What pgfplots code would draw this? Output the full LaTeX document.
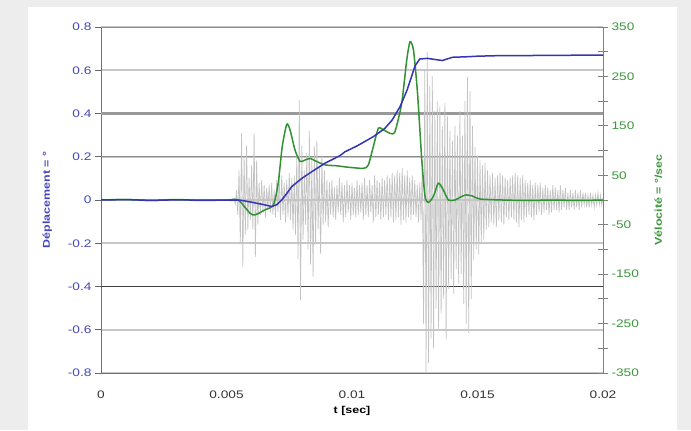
\documentclass[border=0pt]{standalone}
\usepackage{fontspec}
\setmainfont{Liberation Sans}[FakeStretch=1.25]
\usepackage{pgfplots}
\pgfplotsset{compat=1.18}
\definecolor{dispblue}{RGB}{52,52,180}
\definecolor{velgreen}{RGB}{50,145,50}
\definecolor{noisegray}{RGB}{195,195,195}
\definecolor{lblblue}{RGB}{70,70,190}
\definecolor{lblgreen}{RGB}{60,150,60}
\begin{document}
\begin{tikzpicture}[x=1bp,y=1bp]
\useasboundingbox (0,0) rectangle (691,430);
\fill[black!7] (0,0) rectangle (691,430);
\fill[white] (28,0) rectangle (677,423);
% ---------- axis A: grid and left axis ----------
\begin{axis}[
  at={(101bp,57bp)}, anchor=south west,
  scale only axis, width=502bp, height=346bp,
  xmin=0, xmax=0.02, ymin=-0.8, ymax=0.8,
  scaled x ticks=false, scaled y ticks=false,
  axis x line*=bottom, axis y line*=left,
  axis line style={black!55, line width=0.8bp},
  x axis line style={-}, y axis line style={-},
  xtick={0,0.005,0.01,0.015,0.02},
  xticklabels={0,0.005,0.01,0.015,0.02},
  xtick style={draw=none},
  ytick={-0.8,-0.6,-0.4,-0.2,0,0.2,0.4,0.6,0.8},
  yticklabels={-0.8,-0.6,-0.4,-0.2,0,0.2,0.4,0.6,0.8},
  ytick style={black!60, line width=0.8bp},
  tick align=outside, major tick length=6bp,
  ymajorgrids, major grid style={black!22, line width=1.6bp},
  yticklabel style={font=\fontsize{11}{13}\selectfont, text=lblblue},
  xticklabel style={font=\fontsize{11}{13}\selectfont, text=black!80, yshift=-8bp},
  xlabel={\textbf{t [sec]}},
  xlabel style={font=\fontsize{10}{12}\selectfont, at={(axis description cs:0.5,-0.11)}, anchor=center},
  ylabel={\textbf{Déplacement = °}},
  ylabel style={font=\fontsize{10}{12}\selectfont, text=lblblue, at={(axis description cs:-0.107,0.5)}, anchor=center, rotate=0},
]
\draw[black!40, line width=2.2bp] (axis cs:0,0.4) -- (axis cs:0.02,0.4);
\draw[black!75, line width=0.9bp] (axis cs:0,-0.4) -- (axis cs:0.02,-0.4);
\draw[black!45, line width=0.8bp] (axis cs:0,0.8) -- (axis cs:0.02,0.8);
\draw[black!45, line width=0.9bp] (axis cs:0,0.2) -- (axis cs:0.02,0.2);
\addplot[draw=none] coordinates {(0,0)};
\end{axis}
% ---------- axis B: velocity (right axis), noise and green line ----------
\begin{axis}[
  at={(101bp,57bp)}, anchor=south west,
  scale only axis, width=502bp, height=346bp,
  xmin=0, xmax=0.02, ymin=-350, ymax=350,
  scaled x ticks=false,
  axis x line=none, axis y line*=right,
  axis line style={black!50, line width=0.8bp}, y axis line style={-},
  ytick={-350,-250,-150,-50,50,150,250,350},
  yticklabels={-350,-250,-150,-50,50,150,250,350},
  minor ytick={-300,-200,-100,0,100,200,300},
  tick align=center, major tick length=10bp, minor tick length=10bp,
  every tick/.style={black!50, line width=0.8bp},
  yticklabel style={font=\fontsize{11}{13}\selectfont, text=lblgreen},
  ylabel={\textbf{Vélocité = °/sec}},
  ylabel style={font=\fontsize{10}{12}\selectfont, text=lblgreen, at={(axis description cs:1.11,0.5)}, anchor=center, rotate=0},
]
\addplot[noisegray, line width=0.7bp] coordinates {
(0,0) (0.001,1) (0.002,-1) (0.003,1) (0.004,-1) (0.005,1) (0.0052,-2) (0.0053,3)
(0.00535,-8) (0.0054,20) (0.00545,-30) (0.0055,60) (0.00555,-90) (0.0056,135) (0.00565,-135) (0.0057,90)
(0.00575,-70) (0.0058,110) (0.00585,-60) (0.0059,45) (0.00595,-40) (0.006,70) (0.00605,-60) (0.0061,135)
(0.00615,-115) (0.0062,80) (0.00625,-50) (0.0063,35) (0.00635,-30) (0.0064,40) (0.00645,-25) (0.0065,30)
(0.00655,-35) (0.0066,25) (0.00665,-20) (0.0067,30) (0.00675,-25) (0.0068,35) (0.00685,-30) (0.0069,20)
(0.00695,-35) (0.007,40) (0.00705,-25) (0.0071,45) (0.00715,-40) (0.0072,50) (0.00725,-30) (0.0073,35)
(0.00735,-45) (0.0074,40) (0.00745,-35) (0.0075,55) (0.00755,-40) (0.0076,45) (0.00765,-60) (0.0077,50)
(0.00775,-70) (0.0078,90) (0.00785,-120) (0.0079,202) (0.00795,-202) (0.008,110) (0.00805,-80) (0.0081,60)
(0.00815,-50) (0.0082,95) (0.00825,-100) (0.0083,140) (0.00835,-130) (0.0084,80) (0.00845,-155) (0.0085,110)
(0.00855,-90) (0.0086,120) (0.00865,-60) (0.0087,70) (0.00875,-110) (0.0088,90) (0.00885,-50) (0.0089,60)
(0.00895,-45) (0.009,40) (0.00905,-55) (0.0091,35) (0.00915,-30) (0.0092,40) (0.00925,-35)
(0.0093,25) (0.00935,-40) (0.0094,30) (0.00945,-25) (0.0095,45) (0.00955,-30) (0.0096,35) (0.00965,-45)
(0.0097,30) (0.00975,-35) (0.0098,40) (0.00985,-25) (0.0099,30) (0.00995,-40) (0.01,35) (0.01005,-30)
(0.0101,25) (0.01015,-35) (0.0102,40) (0.01025,-30) (0.0103,30) (0.01035,-25) (0.0104,35) (0.01045,-40)
(0.0105,45) (0.01055,-30) (0.0106,30) (0.01065,-35) (0.0107,40) (0.01075,-25) (0.0108,30) (0.01085,-45)
(0.0109,50) (0.01095,-35) (0.011,40) (0.01105,-30) (0.0111,35) (0.01115,-40) (0.0112,45) (0.01125,-35)
(0.0113,40) (0.01135,-30) (0.0114,50) (0.01145,-40) (0.0115,45) (0.01155,-35) (0.0116,55) (0.01165,-45)
(0.0117,50) (0.01175,-40) (0.0118,60) (0.01185,-35) (0.0119,55) (0.01195,-50) (0.012,65) (0.01205,-40)
(0.0121,50) (0.01215,-45) (0.0122,60) (0.01225,-35) (0.0123,45) (0.01235,-40) (0.0124,50) (0.01245,-30)
(0.0125,40) (0.01255,-35) (0.0126,30) (0.01265,-45) (0.0127,35) (0.01275,-40)
(0.0128,80) (0.01285,-250) (0.0129,263) (0.01295,-350) (0.013,300) (0.01305,-330) (0.0131,230) (0.01315,-280)
(0.0132,250) (0.01325,-300) (0.0133,180) (0.01335,-220) (0.0134,200) (0.01345,-260) (0.0135,190) (0.01355,-230)
(0.0136,150) (0.01365,-200) (0.0137,196) (0.01375,-283) (0.0138,170) (0.01385,-180) (0.0139,140) (0.01395,-160)
(0.014,120) (0.01405,-190) (0.0141,150) (0.01415,-140) (0.0142,130) (0.01425,-170) (0.0143,180) (0.01435,-150)
(0.0144,130) (0.01445,-210) (0.0145,200) (0.01455,-250) (0.0146,249) (0.01465,-269) (0.0147,220) (0.01475,-200)
(0.0148,150) (0.01485,-121) (0.0149,107) (0.01495,-100) (0.015,90) (0.01505,-110) (0.0151,80) (0.01515,-85)
(0.0152,70) (0.01525,-80) (0.0153,75) (0.01535,-60) (0.0154,60) (0.01545,-55) (0.0155,50) (0.01555,-45)
(0.0156,55) (0.01565,-50) (0.0157,45) (0.01575,-55) (0.0158,50) (0.01585,-40) (0.0159,55) (0.01595,-45)
(0.016,50) (0.01605,-50) (0.0161,45) (0.01615,-35) (0.0162,40)
(0.01625,-40) (0.0163,45) (0.01635,-35) (0.0164,50) (0.01645,-40) (0.0165,55) (0.01655,-45) (0.0166,50)
(0.01665,-55) (0.0167,45) (0.01675,-40) (0.0168,50) (0.01685,-45) (0.0169,40) (0.01695,-35) (0.017,35)
(0.01705,-30) (0.0171,40) (0.01715,-35) (0.0172,30) (0.01725,-40) (0.0173,35) (0.01735,-30) (0.0174,30)
(0.01745,-25) (0.0175,35) (0.01755,-30) (0.0176,25) (0.01765,-25) (0.0177,30) (0.01775,-20) (0.0178,25)
(0.01785,-30) (0.0179,20) (0.01795,-25) (0.018,30) (0.01805,-20) (0.0181,25) (0.01815,-20) (0.0182,20)
(0.01825,-25) (0.0183,30) (0.01835,-20) (0.0184,20) (0.01845,-15) (0.0185,25) (0.01855,-20) (0.0186,15)
(0.01865,-20) (0.0187,20) (0.01875,-15) (0.0188,15) (0.01885,-20) (0.0189,20) (0.01895,-15) (0.019,15)
(0.01905,-20) (0.0191,20) (0.01915,-15) (0.0192,15) (0.01925,-10) (0.0193,15) (0.01935,-15) (0.0194,10)
(0.01945,-15) (0.0195,15) (0.01955,-10) (0.0196,10) (0.01965,-15) (0.0197,10) (0.01975,-10) (0.0198,15)
(0.01985,-10) (0.0199,10) (0.01995,-10) (0.02,5)
};
\addplot[velgreen, line width=1.5bp, smooth, tension=0.4] coordinates {
(0,0) (0.001,1) (0.002,-1) (0.003,1) (0.004,-1) (0.005,0) (0.00547,0)
(0.00594,-27) (0.00614,-30) (0.00653,-20) (0.00687,-10) (0.00706,34) (0.00722,108)
(0.0074,153) (0.00753,142) (0.00773,101) (0.00793,78) (0.00813,81) (0.00833,84)
(0.00859,78) (0.00892,71) (0.00945,69) (0.00972,67) (0.01045,64) (0.01065,71)
(0.01085,108) (0.01105,145) (0.01125,142) (0.01151,135) (0.01171,138) (0.01198,196)
(0.01218,283) (0.01231,320) (0.01245,303) (0.01261,216) (0.01278,81) (0.01291,7)
(0.01304,-5) (0.01324,7) (0.01344,34) (0.01364,20) (0.01384,0) (0.0141,0)
(0.0145,10) (0.0148,8) (0.0151,2) (0.016,0) (0.017,-1) (0.018,0) (0.019,-1) (0.02,0)
};
\end{axis}
% ---------- axis C: displacement (left scale), blue line ----------
\begin{axis}[
  at={(101bp,57bp)}, anchor=south west,
  scale only axis, width=502bp, height=346bp,
  xmin=0, xmax=0.02, ymin=-0.8, ymax=0.8,
  hide axis,
]
\addplot[dispblue, line width=1.5bp] coordinates {
(0,0) (0.001,0.002) (0.002,-0.002) (0.003,0.001) (0.004,-0.001) (0.005,0) (0.0055,0)
(0.006,-0.01) (0.0065,-0.022) (0.0068,-0.03) (0.007,-0.022) (0.0072,0.0) (0.0074,0.03)
(0.0076,0.062) (0.008,0.1) (0.0084,0.131) (0.00892,0.17) (0.00952,0.205) (0.00972,0.223)
(0.0102,0.25) (0.01085,0.293) (0.0113,0.33) (0.0116,0.37) (0.01191,0.431) (0.0122,0.51)
(0.01251,0.62) (0.0127,0.652) (0.013,0.655) (0.0133,0.65) (0.0136,0.645) (0.014,0.66)
(0.0145,0.662) (0.015,0.665) (0.016,0.668) (0.017,0.668) (0.018,0.669) (0.02,0.67)
};
\end{axis}
\end{tikzpicture}
\end{document}
